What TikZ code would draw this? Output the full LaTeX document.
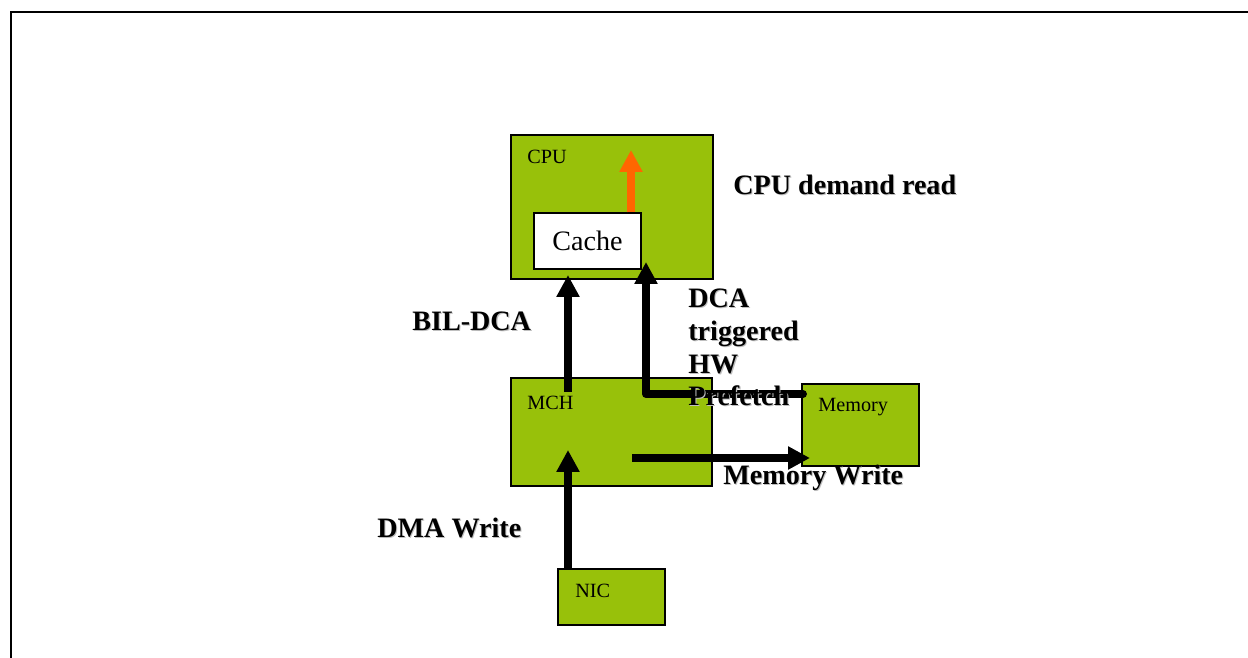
\documentclass[tikz,border=0pt]{standalone}
\usepackage{fontspec}
\setmainfont{Liberation Serif}
\usepackage{xcolor}
\usepackage{tikz}
\usetikzlibrary{positioning,arrows.meta}
\definecolor{boxgreen}{RGB}{152,193,10}
\definecolor{readorange}{RGB}{255,102,0}
\newcommand{\shadowed}[1]{\rlap{\hspace{0.6pt}\raisebox{-0.6pt}{\textcolor{black!25}{#1}}}#1}

\begin{document}
\begin{tikzpicture}[x=0.02cm, y=-0.02cm, >={Triangle[width=12.5pt,length=12.5pt]},
    unit/.style={draw, fill=boxgreen, line width=0.8pt, inner sep=0pt},
    tag/.style={anchor=west, inner sep=0pt, font=\fontsize{11.5}{13}\selectfont},
    note/.style={anchor=west, inner sep=0pt, align=left, font=\fontsize{16}{18.7}\selectfont\bfseries},
    flow/.style={line width=4.5pt}]
    \useasboundingbox (0,0) rectangle (1248,658);
    % Frame
    \draw[line width=1.1pt] (11,670) -- (11,12) -- (1260,12);

    % Nodes
    \node[unit, minimum width=4.04cm, minimum height=2.88cm] (cpu) at (612,207) {};
    \node[unit, fill=white, minimum width=2.14cm, minimum height=1.12cm,
          font=\fontsize{16}{18}\selectfont] (cache) at (587.5,241) {Cache};
    \node[unit, minimum width=4.02cm, minimum height=2.16cm] (mch) at (611.5,432) {};
    \node[unit, minimum width=2.34cm, minimum height=1.64cm] (memory) at (860.5,425) {};
    \node[unit, minimum width=2.14cm, minimum height=1.12cm] (nic) at (611.5,597) {};

    \node[tag] (cputag) at (527,157) {CPU};
    \node[tag] (mchtag) at (527,403) {MCH};
    \node[tag] (memtag) at (818,407) {Memory};
    \node[tag] (nictag) at (575,591) {NIC};

    % Arrows
    \coordinate (readtip) at (631,150);
    \coordinate (bilfoot) at (568,392);
    \coordinate (biltip) at (568,275);
    \coordinate (pfstart) at (803,394);
    \coordinate (pfcorner) at (646,394);
    \coordinate (pftip) at (646,262);
    \coordinate (mwstart) at (632,458);
    \coordinate (mwtip) at (810,458);
    \coordinate (dmatip) at (568,450);

    \draw[flow, ->, readorange, line width=4pt] (cache.north -| readtip) -- (readtip);
    \draw[flow, ->] (bilfoot) -- (biltip);
    \draw[flow, ->, line cap=round, line join=round] (pfstart) -- (pfcorner) -- (pftip);
    \draw[flow, ->] (mwstart) -- (mwtip);
    \draw[flow, ->] (nic.north -| dmatip) -- (dmatip);

    % Labels
    \node[note] (demand) at (733,185) {\shadowed{CPU demand read}};
    \node[note] (bildca) at (412,322) {\shadowed{BIL-DCA}};
    \node[note] (prefetch) at (688,348) {\shadowed{DCA}\\\shadowed{triggered}\\\shadowed{HW}\\\shadowed{Prefetch}};
    \node[note] (memwrite) at (723,478) {\shadowed{Memory Write}};
    \node[note] (dmawrite) at (377,528) {\shadowed{DMA Write}};
\end{tikzpicture}
\end{document}
